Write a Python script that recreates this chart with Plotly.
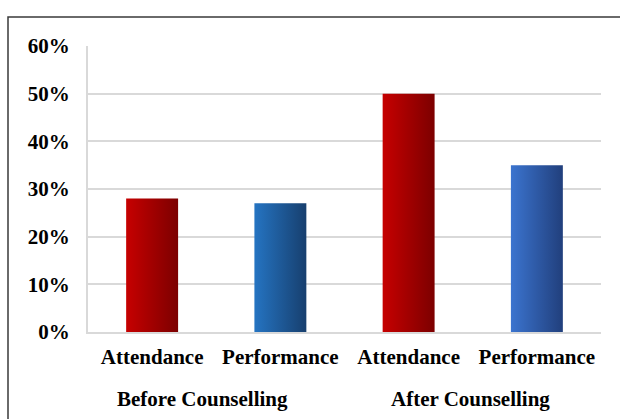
import plotly.graph_objects as go

# ---- data ----
groups = ["Before Counselling", "Before Counselling", "After Counselling", "After Counselling"]
categories = ["Attendance", "Performance", "Attendance", "Performance"]
values = [0.28, 0.27, 0.50, 0.35]
group_names = ["Before Counselling", "After Counselling"]
y_ticks = [0, 0.1, 0.2, 0.3, 0.4, 0.5, 0.6]

# ---- styles ----
bar_colors = [
    ("#c60000", "#7c0000"),
    ("#2574c2", "#173f6e"),
    ("#c60000", "#7c0000"),
    ("#3b74cf", "#213f7c"),
]
bar_width = 0.405
FONT = "Liberation Serif"
W, H = 620, 419
ML, MR, MT, MB = 88, 19, 46, 87

fig = go.Figure()
idx = list(range(len(categories)))
for i, v in zip(idx, values):
    x0, x1 = i - bar_width / 2, i + bar_width / 2
    c_left, c_right = bar_colors[i]
    fig.add_trace(go.Scatter(
        x=[x0, x1, x1, x0, x0],
        y=[0, 0, v, v, 0],
        mode="lines",
        line=dict(width=0),
        fill="toself",
        fillgradient=dict(type="horizontal",
                          colorscale=[[0, c_left], [1, c_right]]),
        hoverinfo="skip",
        showlegend=False,
    ))

# group annotations
group_xshift = [-14, -2]
for g, xs in zip(group_names, group_xshift):
    pos = [i for i, gg in zip(idx, groups) if gg == g]
    fig.add_annotation(
        x=sum(pos) / len(pos), xref="x",
        y=-(399 - 332) / 286, yref="paper",
        text=g, showarrow=False, xshift=xs,
        font=dict(family=FONT, size=21, color="black", weight="bold"),
        yanchor="middle",
    )

pw = W - ML - MR
ph = H - MT - MB
# outer border
fig.add_shape(
    type="rect", xref="paper", yref="paper",
    x0=(8 - ML) / pw, x1=(640 - ML) / pw,
    y0=-(440 - (H - MB)) / ph, y1=1 + (MT - 17) / ph,
    line=dict(color="#3a3a3a", width=1.5),
    fillcolor="rgba(0,0,0,0)", layer="below",
)

fig.update_layout(
    width=W, height=H,
    margin=dict(l=ML, r=MR, t=MT, b=MB),
    paper_bgcolor="white", plot_bgcolor="white",
    showlegend=False, hovermode=False,
    font=dict(family=FONT, color="black"),
)
fig.update_xaxes(
    range=[-0.5, len(categories) - 0.5],
    tickvals=idx, ticktext=categories,
    tickfont=dict(family=FONT, size=21, color="black", weight="bold"),
    showgrid=False, zeroline=False,
    showline=True, linecolor="#d9d9d9", linewidth=2,
    ticks="", ticklabelstandoff=5, fixedrange=True,
)
fig.update_yaxes(
    range=[0, 0.6],
    tickvals=y_ticks, tickformat=".0%",
    tickfont=dict(family=FONT, size=21, color="black", weight="bold"),
    showgrid=True, gridcolor="#d9d9d9", gridwidth=2,
    zeroline=False,
    showline=True, linecolor="#d9d9d9", linewidth=2,
    ticks="", ticklabelstandoff=12, fixedrange=True,
)

fig.write_html("out.html")
